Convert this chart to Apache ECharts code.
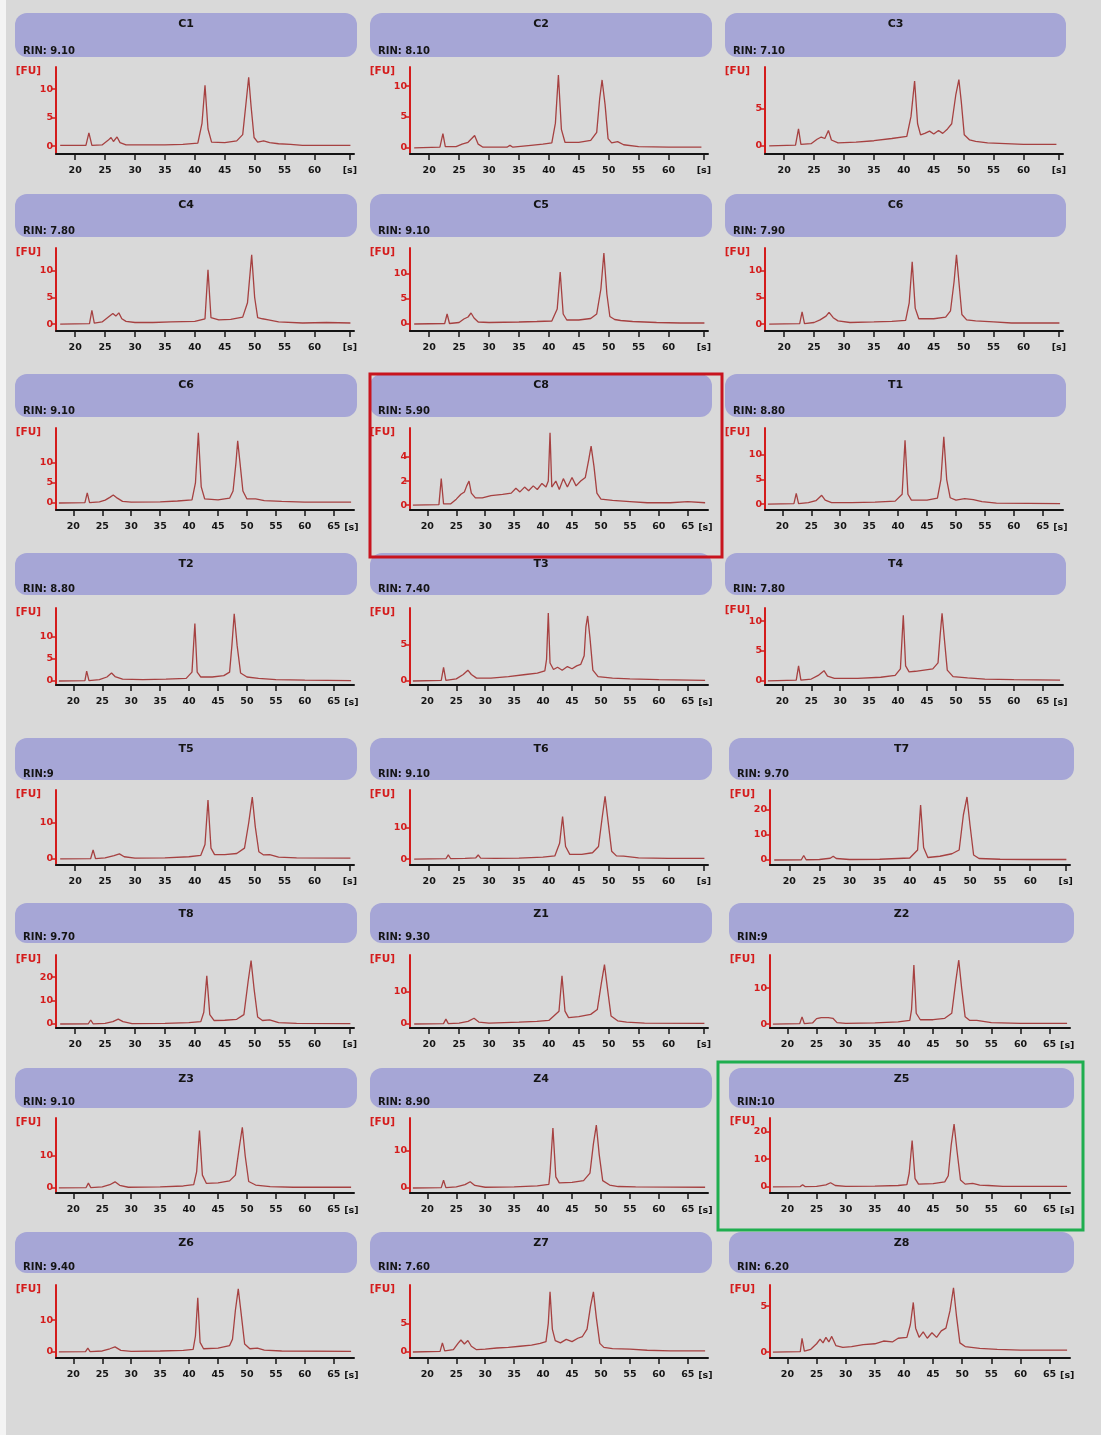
<!DOCTYPE html>
<html>
<head>
<meta charset="utf-8">
<script src="https://cdn.jsdelivr.net/npm/echarts@6/dist/echarts.min.js"></script>
<style>
  html, body { margin: 0; padding: 0; background: #ffffff; }
  #chart { width: 1101px; height: 1435px; }
</style>
</head>
<body>
<div id="chart"></div>
<script>
// Sample names and RNA integrity numbers, in panel order (left to right, top to bottom)
const sampleNames = ['C1', 'C2', 'C3', 'C4', 'C5', 'C6', 'C6', 'C8', 'T1', 'T2', 'T3', 'T4',
  'T5', 'T6', 'T7', 'T8', 'Z1', 'Z2', 'Z3', 'Z4', 'Z5', 'Z6', 'Z7', 'Z8'];
const rinLabels = ['RIN: 9.10', 'RIN: 8.10', 'RIN: 7.10', 'RIN: 7.80', 'RIN: 9.10', 'RIN: 7.90',
  'RIN: 9.10', 'RIN: 5.90', 'RIN: 8.80', 'RIN: 8.80', 'RIN: 7.40', 'RIN: 7.80',
  'RIN:9', 'RIN: 9.10', 'RIN: 9.70', 'RIN: 9.70', 'RIN: 9.30', 'RIN:9',
  'RIN: 9.10', 'RIN: 8.90', 'RIN:10', 'RIN: 9.40', 'RIN: 7.60', 'RIN: 6.20'];

// Electropherogram traces: [time (s), fluorescence (FU)]
const traceC1 = [[17.5,0.1],[21.8,0.1],[22.3,2.3],[22.8,0.1],[24.5,0.2],[25.5,1.0],[26,1.5],[26.4,0.8],[27,1.6],[27.5,0.6],[28.5,0.2],[35,0.2],[38,0.3],[40.5,0.5],[41.2,4],[41.7,10.7],[42.2,3],[42.8,0.7],[45,0.6],[47,0.9],[48,2],[48.6,8],[49,12.1],[49.4,7],[49.9,1.5],[50.5,0.7],[51.5,0.9],[52.5,0.6],[54,0.4],[56,0.3],[58,0.1],[66,0.1]];
const traceC2 = [[17.5,0],[21.8,0.1],[22.3,2.3],[22.7,0.2],[24.5,0.2],[25.5,0.6],[26.5,0.9],[27.2,1.6],[27.6,2.0],[28.2,0.6],[29,0.1],[33,0.1],[33.5,0.4],[34,0.1],[37,0.4],[39,0.6],[40.5,0.8],[41.1,4],[41.6,11.8],[42.1,3],[42.7,0.9],[45,0.9],[47,1.2],[48,2.5],[48.5,8],[48.9,11],[49.4,7],[49.9,1.5],[50.5,0.8],[51.5,1.0],[52.5,0.5],[55,0.2],[60,0.1],[65.5,0.1]];
const traceC3 = [[17.5,0],[21.9,0.1],[22.4,2.3],[22.8,0.2],[24.5,0.3],[25.5,0.9],[26.2,1.2],[26.8,1.0],[27.4,2.1],[27.9,0.8],[29,0.4],[32,0.5],[35,0.7],[38,1.0],[40.5,1.3],[41.2,4],[41.8,8.8],[42.3,3],[42.8,1.5],[43.5,1.7],[44.3,2.0],[45,1.6],[45.8,2.1],[46.5,1.7],[47.3,2.3],[48,3],[48.7,7],[49.2,9.0],[49.6,6],[50.1,1.5],[51,0.8],[52,0.6],[54,0.4],[57,0.3],[60,0.2],[65.5,0.2]];
const traceC4 = [[17.5,0],[22.4,0.1],[22.8,2.6],[23.2,0.2],[24.5,0.4],[25.5,1.3],[26.3,2.0],[26.8,1.5],[27.3,2.1],[27.8,1.0],[28.5,0.5],[30,0.3],[33,0.3],[36,0.4],[40,0.5],[41.7,1],[42.2,10.2],[42.7,1.2],[44,0.8],[46,0.9],[48,1.3],[48.8,4],[49.5,13],[50,5],[50.5,1.2],[51.3,1.0],[52.3,0.8],[54,0.4],[58,0.2],[62,0.3],[66,0.2]];
const traceC5 = [[17.5,0],[22.6,0.1],[23.0,2.0],[23.4,0.1],[25,0.3],[25.8,1.0],[26.5,1.4],[27.0,2.2],[27.5,1.2],[28.2,0.4],[30,0.3],[35,0.4],[38,0.5],[40.5,0.6],[41.4,3],[41.9,10.4],[42.4,2],[43,0.8],[45,0.8],[47,1.1],[48,2],[48.7,7],[49.2,14.2],[49.7,6],[50.2,1.5],[51,0.9],[52,0.7],[54,0.5],[58,0.3],[62,0.2],[66,0.2]];
const traceC6 = [[17.5,0],[22.6,0.1],[23.0,2.3],[23.4,0.1],[25,0.3],[26,0.8],[27,1.5],[27.5,2.2],[28.2,1.2],[29,0.6],[31,0.3],[35,0.4],[38,0.5],[40.3,0.7],[40.9,4],[41.4,11.7],[41.9,3],[42.5,1.0],[45,1.0],[47,1.3],[47.8,2.5],[48.4,8],[48.8,13],[49.2,8],[49.7,1.8],[50.5,0.8],[52,0.6],[55,0.4],[58,0.2],[66,0.2]];
const traceC6b = [[17.5,0],[22.0,0.1],[22.4,2.5],[22.8,0.1],[24.5,0.3],[25.5,0.7],[26.3,1.4],[26.9,2.0],[27.6,1.2],[28.5,0.4],[30,0.2],[35,0.3],[38,0.5],[40.5,0.8],[41.1,5],[41.6,17.5],[42.1,4],[42.7,1.0],[45,0.8],[47,1.2],[47.6,3],[48.1,10],[48.4,15.5],[48.8,10],[49.3,3],[50,1.0],[51.5,1.0],[53,0.6],[56,0.4],[60,0.2],[68,0.2]];
const traceC8 = [[17.5,0],[22.0,0.05],[22.4,2.2],[22.8,0.1],[24,0.1],[25,0.5],[25.8,0.9],[26.4,1.1],[26.8,1.6],[27.2,2.0],[27.6,1.0],[28.3,0.6],[29.5,0.6],[31,0.8],[33,0.9],[34.5,1.0],[35.3,1.4],[36,1.1],[36.8,1.5],[37.5,1.2],[38.3,1.6],[39,1.3],[39.8,1.8],[40.5,1.5],[40.9,2],[41.2,6.0],[41.5,1.5],[42.2,2.0],[42.8,1.3],[43.5,2.2],[44.2,1.5],[45,2.3],[45.7,1.6],[46.5,2.0],[47.3,2.3],[47.9,3.8],[48.3,4.9],[48.8,3.2],[49.3,1.0],[50,0.5],[52,0.4],[55,0.3],[58,0.2],[62,0.2],[65,0.3],[68,0.2]];
const traceT1 = [[17.5,0],[22.0,0.1],[22.4,2.2],[22.8,0.1],[24.5,0.3],[25.8,0.7],[26.8,1.8],[27.4,0.8],[28.5,0.3],[32,0.3],[36,0.4],[39.5,0.6],[40.7,2],[41.2,13],[41.7,2],[42.3,0.8],[45,0.8],[46.8,1.2],[47.4,5],[47.9,13.7],[48.4,5],[49,1.3],[50,0.8],[51.5,1.1],[53,0.9],[54.5,0.5],[57,0.2],[68,0.1]];
const traceT2 = [[17.5,0],[22.0,0.1],[22.3,2.2],[22.7,0.1],[24.5,0.3],[25.8,0.9],[26.6,1.8],[27.2,1.0],[28.5,0.4],[32,0.3],[36,0.4],[39.5,0.6],[40.5,2],[41.0,12.9],[41.4,2],[42,0.9],[44,0.9],[46,1.2],[47,2],[47.4,8],[47.8,15.1],[48.3,8],[48.9,1.8],[50,0.9],[52,0.6],[55,0.3],[60,0.2],[68,0.1]];
const traceT3 = [[17.5,0],[22.4,0.1],[22.8,1.9],[23.2,0.1],[25,0.3],[26.2,0.9],[27.0,1.5],[27.6,0.9],[28.5,0.4],[31,0.4],[34,0.6],[37,0.9],[39,1.1],[40.3,1.4],[40.6,3],[40.9,9.4],[41.2,2.5],[41.8,1.6],[42.5,1.9],[43.3,1.5],[44.2,2.0],[45,1.7],[45.8,2.1],[46.5,2.3],[47.1,3.5],[47.4,7.5],[47.7,9.0],[48.1,6],[48.6,1.5],[49.5,0.6],[52,0.4],[55,0.3],[60,0.2],[68,0.1]];
const traceT4 = [[17.5,0],[22.4,0.1],[22.8,2.5],[23.2,0.1],[25,0.3],[26.2,0.9],[27.2,1.7],[27.8,0.8],[29,0.4],[33,0.4],[37,0.6],[39.5,0.9],[40.4,2],[40.9,11],[41.3,2.5],[41.9,1.5],[43,1.6],[44.5,1.8],[46,2.0],[46.9,3],[47.3,8],[47.6,11.3],[48,7],[48.5,1.8],[49.5,0.7],[52,0.5],[55,0.3],[60,0.2],[68,0.1]];
const traceT5 = [[17.5,0],[22.6,0.1],[23.0,2.5],[23.4,0.1],[25,0.3],[26.5,0.9],[27.4,1.4],[28.2,0.6],[30,0.2],[35,0.3],[39,0.6],[41,1],[41.7,4],[42.2,16.4],[42.7,3],[43.3,1.2],[45,1.2],[47,1.5],[48.3,3],[49,10],[49.6,17.2],[50.1,9],[50.7,2],[51.5,1.1],[52.5,1.2],[54,0.5],[57,0.3],[66,0.2]];
const traceT6 = [[17.5,0],[22.8,0.1],[23.2,1.3],[23.6,0.1],[26,0.2],[27.8,0.4],[28.2,1.3],[28.6,0.3],[31,0.2],[35,0.3],[39,0.6],[41,1],[41.8,5],[42.3,13.5],[42.8,4],[43.5,1.5],[45.5,1.5],[47.3,2],[48.3,4],[48.9,13],[49.4,20],[49.9,12],[50.5,2.5],[51.3,1.0],[52.5,0.9],[55,0.4],[60,0.2],[66,0.2]];
const traceT7 = [[17.5,0],[22.0,0.1],[22.4,1.8],[22.8,0.1],[25,0.2],[26.8,0.7],[27.3,1.5],[27.8,0.6],[30,0.2],[35,0.3],[38,0.6],[40,0.8],[41.3,4],[41.8,22],[42.3,5],[43,1.0],[45,1.5],[47,2.5],[48.2,4],[48.9,18],[49.5,25.2],[50,14],[50.6,2],[51.5,0.6],[55,0.3],[60,0.2],[66,0.2]];
const traceT8 = [[17.5,0],[22.2,0.1],[22.6,1.7],[23,0.1],[25,0.3],[26.3,1.0],[27.2,2.1],[28,1.0],[29.5,0.2],[35,0.3],[39,0.6],[41,1],[41.5,5],[42.0,20.5],[42.5,4],[43.2,1.5],[45,1.6],[47,2],[48.2,4],[48.9,18],[49.4,27],[49.9,15],[50.5,3],[51.3,1.5],[52.5,1.8],[54,0.6],[57,0.3],[66,0.2]];
const traceZ1 = [[17.5,0],[22.4,0.1],[22.8,1.5],[23.2,0.1],[25,0.3],[26.5,0.8],[27.5,1.8],[28.3,0.6],[30,0.3],[35,0.6],[38,0.8],[40,1.1],[41.7,4],[42.2,15],[42.7,4],[43.3,2],[45,2.3],[47,3],[48.1,4.5],[48.8,13],[49.3,18.5],[49.8,11],[50.4,2.5],[51.5,1.0],[53,0.6],[56,0.3],[66,0.2]];
const traceZ2 = [[17.5,0],[22.1,0.1],[22.5,2.0],[22.9,0.1],[24.3,0.3],[25,1.5],[25.8,1.8],[27,1.8],[27.8,1.6],[28.5,0.4],[30,0.2],[35,0.3],[39,0.6],[41,1],[41.3,4],[41.7,16.4],[42.1,3],[42.8,1.2],[45,1.2],[47,1.6],[48.2,3],[48.9,12],[49.4,17.8],[49.9,10],[50.5,2],[51.3,1.0],[52.5,1.0],[55,0.4],[60,0.2],[68,0.2]];
const traceZ3 = [[17.5,0],[22.2,0.1],[22.6,1.5],[23,0.1],[25,0.3],[26.3,1.0],[27.2,1.9],[28,0.8],[29.5,0.2],[35,0.3],[39,0.6],[40.8,1],[41.3,5],[41.8,18],[42.3,4],[43,1.4],[45,1.6],[47,2.2],[48,4],[48.7,13],[49.2,19],[49.7,10],[50.3,2],[51.5,0.9],[54,0.4],[58,0.2],[68,0.2]];
const traceZ4 = [[17.5,0],[22.4,0.1],[22.8,2.1],[23.2,0.1],[25,0.3],[26.5,0.9],[27.4,1.7],[28.2,0.7],[30,0.2],[35,0.3],[39,0.6],[41,1],[41.2,4],[41.7,16.2],[42.2,3],[42.8,1.4],[45,1.5],[47,2],[48.1,4],[48.7,12],[49.2,17],[49.7,9],[50.3,2],[51.5,0.8],[53,0.4],[56,0.3],[68,0.2]];
const traceZ5 = [[17.5,0],[22.2,0.1],[22.6,0.8],[23,0.1],[25,0.2],[26.6,0.7],[27.4,1.5],[28.2,0.5],[30,0.2],[35,0.3],[39,0.5],[40.5,0.8],[40.9,5],[41.4,16.7],[41.9,3],[42.5,1.0],[45,1.2],[47,1.8],[47.6,4],[48.1,15],[48.6,22.6],[49.1,13],[49.7,2.5],[50.5,1.0],[51.8,1.3],[53,0.6],[54.5,0.5],[57,0.2],[68,0.2]];
const traceZ6 = [[17.5,0],[22.1,0.1],[22.5,1.2],[22.9,0.1],[25,0.3],[26.3,1.0],[27.2,1.6],[28.2,0.5],[30,0.2],[35,0.3],[39,0.5],[40.7,0.8],[41.1,5],[41.5,17],[41.9,3],[42.5,1.0],[45,1.2],[47,2.0],[47.5,4],[48.0,13],[48.5,19.8],[49.0,12],[49.6,2.5],[50.5,1.0],[51.8,1.2],[53,0.6],[56,0.3],[68,0.2]];
const traceZ7 = [[17.5,0],[22.2,0.1],[22.6,1.6],[23,0.2],[24.5,0.4],[25.3,1.5],[25.8,2.1],[26.4,1.4],[27.0,2.0],[27.6,1.0],[28.5,0.4],[30,0.5],[32,0.7],[34,0.8],[36,1.0],[38,1.2],[39.5,1.5],[40.5,1.8],[40.9,5],[41.2,10.5],[41.6,4],[42.1,2.0],[43,1.6],[44,2.2],[45,1.8],[46,2.4],[46.8,2.7],[47.6,4],[48.2,8],[48.7,10.5],[49.2,6],[49.8,1.5],[50.5,0.8],[52,0.6],[55,0.5],[58,0.3],[62,0.2],[68,0.2]];
const traceZ8 = [[17.5,0],[22.2,0.05],[22.5,1.5],[22.9,0.1],[24,0.3],[25,0.9],[25.6,1.4],[26.1,1.0],[26.6,1.6],[27.1,1.1],[27.6,1.7],[28.3,0.7],[29.5,0.5],[31,0.6],[33,0.8],[35,0.9],[36.5,1.2],[38,1.1],[39,1.5],[40.5,1.6],[41.1,3],[41.6,5.4],[42,2.6],[42.6,1.6],[43.3,2.2],[44,1.5],[44.8,2.1],[45.6,1.6],[46.4,2.3],[47.2,2.6],[47.9,4.5],[48.5,7.0],[49,4],[49.6,1.0],[50.5,0.6],[53,0.4],[56,0.3],[60,0.2],[64,0.2],[68,0.2]];

const traces = [traceC1, traceC2, traceC3, traceC4, traceC5, traceC6, traceC6b, traceC8,
  traceT1, traceT2, traceT3, traceT4, traceT5, traceT6, traceT7, traceT8,
  traceZ1, traceZ2, traceZ3, traceZ4, traceZ5, traceZ6, traceZ7, traceZ8];

// FU axis: labelled ticks and visible range per panel
const fuTicks = [[0,5,10],[0,5,10],[0,5],[0,5,10],[0,5,10],[0,5,10],[0,5,10],[0,2,4],
  [0,5,10],[0,5,10],[0,5],[0,5,10],[0,10],[0,10],[0,10,20],[0,10,20],
  [0,10],[0,10],[0,10],[0,10],[0,10,20],[0,10],[0,5],[0,5]];
const fuMin = [-1.4, -1.0, -1.1, -1.3, -1.4, -1.3, -1.75, -0.4, -1.2, -0.9, -0.55, -0.7,
  -1.7, -1.9, -2.0, -1.7, -1.25, -1.1, -1.6, -1.35, -2.2, -1.9, -1.05, -0.65];
const fuMax = [13.9, 13.1, 10.7, 14.3, 15.2, 14.3, 18.7, 6.4, 15.5, 16.4, 10.1, 12.2,
  19.2, 22.0, 28.0, 29.4, 21.5, 19.2, 21.9, 18.9, 24.8, 21.0, 11.7, 7.3];

// Time axis: tick values; "s60" panels end with the [s] tick, "s65" panels label 65 too
const timeTicks = [20, 25, 30, 35, 40, 45, 50, 55, 60, 65];
const timeStyle = ['s60','s60','s60','s60','s60','s60','s65','s65','s65','s65','s65','s65',
  's60','s60','s60','s60','s60','s65','s65','s65','s65','s65','s65','s65'];

// ---- layout ----
const rows = [
  { head: 13, headBot: 57, top: 67, bot: 154 },
  { head: 194, headBot: 237, top: 248, bot: 331 },
  { head: 374, headBot: 417, top: 428, bot: 510 },
  { head: 553, headBot: 595, top: 608, bot: 685 },
  { head: 738, headBot: 780, top: 790, bot: 865 },
  { head: 903, headBot: 943, top: 955, bot: 1028 },
  { head: 1068, headBot: 1108, top: 1118, bot: 1193 },
  { head: 1232, headBot: 1273, top: 1285, bot: 1358 }
];
function colGeom(c, r) {
  if (c === 0) return { hl: 15, hr: 357, gl: 56, gr: 354 };
  if (c === 1) return { hl: 370, hr: 712, gl: 410, gr: 708 };
  return r >= 4 ? { hl: 729, hr: 1074, gl: 770, gr: 1070 } : { hl: 725, hr: 1066, gl: 765, gr: 1063 };
}

const RED = '#d41c1c';
const INK = '#141414';
const FONT = 'DejaVu Sans';

const grids = [], xAxes = [], yAxes = [], series = [], graphics = [];

graphics.push({ type: 'rect', shape: { x: 0, y: 0, width: 6, height: 1435 }, style: { fill: '#f4f4f4' }, silent: true });

sampleNames.forEach((name, i) => {
  const r = Math.floor(i / 3), c = i % 3;
  const row = rows[r], g = colGeom(c, r);
  const s60 = timeStyle[i] === 's60';
  const xMin = s60 ? 16.8 : 17.0;
  const xMax = s60 ? 66.6 : 68.5;
  const ticks = s60 ? timeTicks.slice(0, 9).concat([65.9]) : timeTicks;

  grids.push({ left: g.gl, top: row.top, width: g.gr - g.gl, height: row.bot - row.top });

  xAxes.push({
    gridIndex: i, type: 'value', min: xMin, max: xMax,
    axisLine: { show: true, onZero: false, lineStyle: { color: INK, width: 2 } },
    axisTick: { show: true, length: 6, customValues: ticks, lineStyle: { color: INK, width: 1.5 } },
    axisLabel: {
      customValues: ticks, margin: 12, color: INK, fontFamily: FONT, fontWeight: 'bold', fontSize: 9.5,
      formatter: v => (v > 65.5 ? '[s]' : String(v))
    },
    splitLine: { show: false },
    name: s60 ? '' : '[s]', nameLocation: 'end', nameGap: -4,
    nameTextStyle: { color: INK, fontFamily: FONT, fontWeight: 'bold', fontSize: 9.5,
      align: 'center', verticalAlign: 'top', padding: [13, 0, 0, 0] }
  });

  yAxes.push({
    gridIndex: i, type: 'value', min: fuMin[i], max: fuMax[i],
    axisLine: { show: true, onZero: false, lineStyle: { color: RED, width: 2 } },
    axisTick: { show: true, length: 5, customValues: fuTicks[i], lineStyle: { color: RED, width: 1.5 } },
    axisLabel: { customValues: fuTicks[i], margin: 3, color: RED, fontFamily: FONT, fontWeight: 'bold', fontSize: 9.5 },
    splitLine: { show: false },
    name: '[FU]', nameLocation: 'end', nameGap: -4,
    nameTextStyle: { color: RED, fontFamily: FONT, fontWeight: 'bold', fontSize: 10.5,
      align: 'right', verticalAlign: 'middle', padding: [0, 15, 0, 0] }
  });

  series.push({
    type: 'line', xAxisIndex: i, yAxisIndex: i, data: traces[i],
    showSymbol: false, symbol: 'none', silent: true, clip: true,
    lineStyle: { color: 'rgba(160,48,48,0.9)', width: 1.3 }
  });

  // panel header: rounded band with sample name and RIN
  graphics.push({
    type: 'rect', silent: true,
    shape: { x: g.hl, y: row.head, width: g.hr - g.hl, height: row.headBot - row.head, r: 12 },
    style: { fill: '#a6a6d6' }
  });
  graphics.push({
    type: 'text', silent: true, x: (g.hl + g.hr) / 2, y: row.head + 11,
    style: { text: name, fill: INK, font: 'bold 11px "DejaVu Sans"', align: 'center', verticalAlign: 'middle' }
  });
  graphics.push({
    type: 'text', silent: true, x: g.hl + 8, y: row.headBot - 6,
    style: { text: rinLabels[i], fill: INK, font: 'bold 10px "DejaVu Sans"', align: 'left', verticalAlign: 'middle' }
  });
});

// highlight frames around C8 and Z5
graphics.push({
  type: 'rect', silent: true, z: 100,
  shape: { x: 370, y: 374, width: 352, height: 183 },
  style: { fill: 'none', stroke: '#c8141e', lineWidth: 3 }
});
graphics.push({
  type: 'rect', silent: true, z: 100,
  shape: { x: 718, y: 1062, width: 365, height: 168 },
  style: { fill: 'none', stroke: '#1fae4f', lineWidth: 3 }
});

const chart = echarts.init(document.getElementById('chart'), null, { renderer: 'canvas' });
chart.setOption({
  backgroundColor: '#d9d9d9',
  animation: false,
  grid: grids,
  xAxis: xAxes,
  yAxis: yAxes,
  series: series,
  graphic: graphics
});
</script>
</body>
</html>
